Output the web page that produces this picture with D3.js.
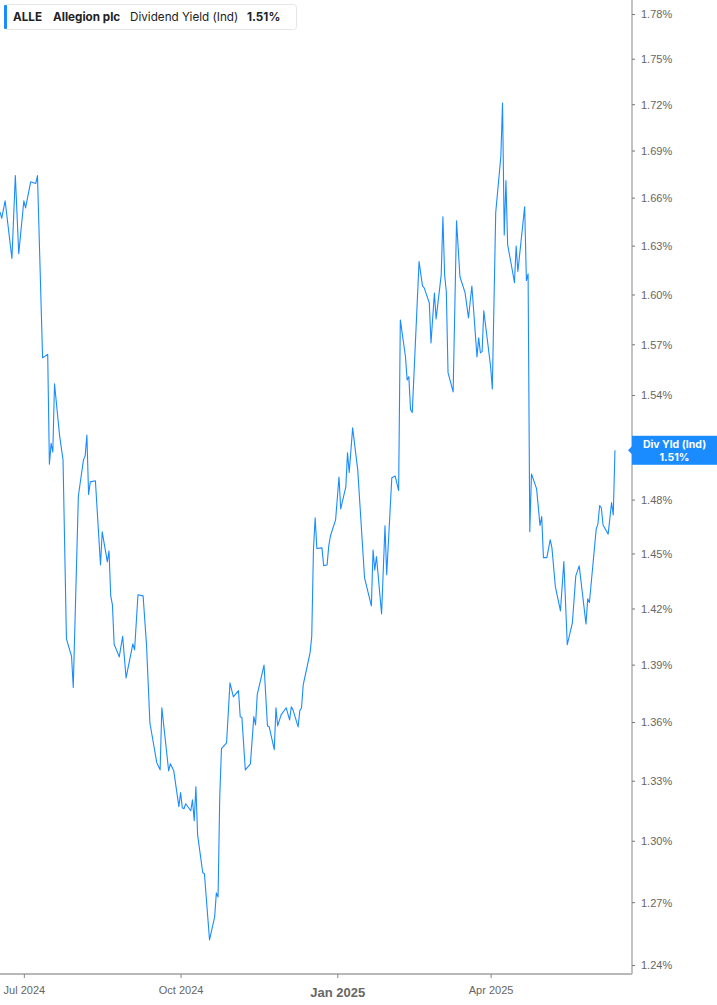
<!DOCTYPE html>
<html>
<head>
<meta charset="utf-8">
<script src="https://cdn.jsdelivr.net/npm/d3@7"></script>
<style>
  body { margin: 0; background: #fff; }
  svg { display: block; font-family: Inter, "Noto Sans", sans-serif; }
</style>
</head>
<body>
<svg id="chart" width="717" height="1005"></svg>
<script>
// dividend yield readings (dates and % values)
const dates = [
  "2024-06-17","2024-06-18","2024-06-20","2024-06-24","2024-06-26","2024-06-28","2024-07-01","2024-07-02",
  "2024-07-05","2024-07-08","2024-07-09","2024-07-12","2024-07-15","2024-07-16","2024-07-17","2024-07-18",
  "2024-07-19","2024-07-22","2024-07-24","2024-07-26","2024-07-29","2024-07-30","2024-08-02","2024-08-05",
  "2024-08-06","2024-08-07","2024-08-08","2024-08-09","2024-08-12","2024-08-15","2024-08-16","2024-08-19",
  "2024-08-20","2024-08-21","2024-08-22","2024-08-23","2024-08-26","2024-08-28","2024-08-30","2024-09-03",
  "2024-09-04","2024-09-06","2024-09-09","2024-09-11","2024-09-13","2024-09-17","2024-09-19","2024-09-20",
  "2024-09-24","2024-09-25","2024-09-27","2024-09-30","2024-10-01","2024-10-02","2024-10-03","2024-10-04",
  "2024-10-07","2024-10-08","2024-10-09","2024-10-10","2024-10-11","2024-10-14","2024-10-15","2024-10-18",
  "2024-10-21","2024-10-22","2024-10-23","2024-10-24","2024-10-25","2024-10-28","2024-10-30","2024-11-01",
  "2024-11-04","2024-11-05","2024-11-06","2024-11-08","2024-11-11","2024-11-13","2024-11-14","2024-11-15",
  "2024-11-19","2024-11-21","2024-11-22","2024-11-25","2024-11-26","2024-11-27","2024-11-29","2024-12-02",
  "2024-12-04","2024-12-05","2024-12-06","2024-12-09","2024-12-10","2024-12-11","2024-12-12","2024-12-16",
  "2024-12-17","2024-12-18","2024-12-19","2024-12-20","2024-12-23","2024-12-24","2024-12-26","2024-12-27",
  "2024-12-28","2024-12-31","2025-01-02","2025-01-03","2025-01-06","2025-01-07","2025-01-08","2025-01-10",
  "2025-01-13","2025-01-17","2025-01-21","2025-01-22","2025-01-23","2025-01-24","2025-01-27","2025-01-29",
  "2025-01-30","2025-02-02","2025-02-04","2025-02-06","2025-02-07","2025-02-10","2025-02-11","2025-02-12",
  "2025-02-13","2025-02-14","2025-02-18","2025-02-20","2025-02-21","2025-02-24","2025-02-25","2025-02-27",
  "2025-02-28","2025-03-03","2025-03-04","2025-03-05","2025-03-06","2025-03-07","2025-03-10","2025-03-12",
  "2025-03-14","2025-03-17","2025-03-19","2025-03-21","2025-03-24","2025-03-25","2025-03-26","2025-03-27",
  "2025-03-28","2025-04-01","2025-04-02","2025-04-04","2025-04-07","2025-04-08","2025-04-09","2025-04-10",
  "2025-04-11","2025-04-13","2025-04-15","2025-04-16","2025-04-17","2025-04-21","2025-04-22","2025-04-23",
  "2025-04-24","2025-04-25","2025-04-28","2025-04-30","2025-05-01","2025-05-02","2025-05-04","2025-05-06",
  "2025-05-07","2025-05-09","2025-05-12","2025-05-14","2025-05-16","2025-05-19","2025-05-21","2025-05-23",
  "2025-05-27","2025-05-28","2025-05-29","2025-06-02","2025-06-03","2025-06-04","2025-06-05","2025-06-06",
  "2025-06-09","2025-06-11","2025-06-12","2025-06-13"
];
const yields = [
  1.651,1.647,1.658,1.622,1.674,1.625,1.658,1.6535,
  1.670,1.669,1.674,1.562,1.564,1.500,1.512,1.507,
  1.5466,1.5163,1.5025,1.4037,1.3944,1.378,1.482,1.5025,
  1.5048,1.5168,1.4829,1.490,1.4906,1.4437,1.462,1.4454,
  1.4514,1.4268,1.4219,1.4008,1.3941,1.405,1.383,1.401,
  1.3978,1.4274,1.4268,1.4006,1.3595,1.3393,1.3355,1.3674,
  1.335,1.3386,1.335,1.317,1.324,1.3164,1.3159,1.3184,
  1.3149,1.3204,1.3099,1.327,1.3029,1.2844,1.2838,1.2519,
  1.2629,1.2745,1.2725,1.322,1.3463,1.3493,1.3804,1.3731,
  1.3763,1.3627,1.3623,1.3355,1.3386,1.3628,1.3585,1.3742,
  1.3898,1.358,1.3576,1.3458,1.3674,1.358,1.3637,1.3674,
  1.3611,1.3679,1.3663,1.3575,1.3658,1.3674,1.3794,1.3962,
  1.405,1.4519,1.4698,1.4527,1.4531,1.4433,1.4437,1.4542,
  1.4598,1.4686,1.4928,1.4748,1.4871,1.5065,1.4953,1.5209,
  1.4968,1.4366,1.4214,1.4519,1.4409,1.4483,1.4171,1.4653,
  1.4383,1.4923,1.4933,1.4851,1.5846,1.5627,1.5489,1.5508,
  1.5314,1.5298,1.6201,1.6052,1.604,1.5949,1.5708,1.6009,
  1.5852,1.612,1.6479,1.612,1.6017,1.5532,1.5418,1.6454,
  1.6108,1.6011,1.5858,1.6052,1.5625,1.5738,1.5649,1.5656,
  1.5901,1.5568,1.5436,1.6506,1.6861,1.7208,1.6366,1.6708,
  1.6304,1.6191,1.6072,1.6298,1.614,1.6543,1.6085,1.6126,
  1.4621,1.4945,1.486,1.4655,1.4705,1.4477,1.4477,1.4576,
  1.4531,1.4319,1.4187,1.4455,1.4006,1.4123,1.4377,1.4432,
  1.4116,1.4252,1.4232,1.4636,1.4664,1.4766,1.4753,1.4658,
  1.4607,1.4783,1.4714,1.508
];
// 1.51% sits under the last-value flag, so it is left out here
const yTicks = [1.24, 1.27, 1.30, 1.33, 1.36, 1.39, 1.42, 1.45, 1.48, 1.54, 1.57, 1.60, 1.63, 1.66, 1.69, 1.72, 1.75, 1.78];
const xTicks = ["2024-07-01", "2024-10-01", "2025-01-01", "2025-04-01"];
const xDomain = ["2024-06-17", "2025-06-23"];
const yDomain = [1.2358, 1.7895];
const lastLabel = { title: "Div Yld (Ind)", value: 1.51 };

const parse = d3.timeParse("%Y-%m-%d");
const data = dates.map((d, i) => ({ date: parse(d), v: yields[i] }));

const plotW = 632, plotH = 974;
const blue = "#1a8cff";

const svg = d3.select("#chart");

const x = d3.scaleTime()
  .domain(xDomain.map(parse))
  .range([0, plotW]);

const y = d3.scaleLog()
  .domain(yDomain)
  .range([plotH, 0]);

// line
svg.append("path")
  .datum(data)
  .attr("fill", "none")
  .attr("stroke", blue)
  .attr("stroke-width", 1.1)
  .attr("stroke-linejoin", "round")
  .attr("d", d3.line().x(d => x(d.date)).y(d => y(d.v)));

// right axis
const yAxis = svg.append("g")
  .attr("transform", `translate(${plotW},0)`)
  .call(d3.axisRight(y).tickValues(yTicks).tickSize(3).tickPadding(6)
    .tickFormat(d => d.toFixed(2) + "%"));
yAxis.select(".domain").attr("stroke", "#9a9a9a").attr("stroke-width", 1.2)
  .attr("d", `M0,0V${plotH}`);
yAxis.selectAll(".tick line").attr("stroke", "#777");
yAxis.selectAll(".tick text")
  .attr("fill", "#666")
  .style("font-size", "11px")
  .attr("dy", "0.35em");

// bottom axis
const xAxis = svg.append("g")
  .attr("transform", `translate(0,${plotH})`)
  .call(d3.axisBottom(x).tickValues(xTicks.map(parse)).tickSize(4).tickPadding(8)
    .tickFormat(d3.timeFormat("%b %Y")));
xAxis.select(".domain").attr("stroke", "#b8b8b8").attr("stroke-width", 2)
  .attr("d", `M0,0H${plotW}`);
xAxis.selectAll(".tick line").attr("stroke", "#888");
xAxis.selectAll(".tick text")
  .attr("fill", "#666")
  .style("font-size", "11px")
  .filter(d => d.getMonth() === 0)
  .style("font-size", "13px")
  .style("font-weight", "bold")
  .attr("dy", "0.85em");

// last value label
const ly = y(yields[yields.length - 1]);
const lab = svg.append("g").attr("transform", `translate(${plotW},${ly})`);
lab.append("rect")
  .attr("x", 0).attr("y", -14.5)
  .attr("width", 717 - plotW).attr("height", 29)
  .attr("fill", blue);
lab.append("path")
  .attr("d", "M0,-4L-4,0L0,4Z")
  .attr("fill", blue);
lab.append("text")
  .attr("x", (717 - plotW) / 2).attr("y", -2.5)
  .attr("text-anchor", "middle")
  .attr("fill", "#fff")
  .style("font-size", "10.5px").style("font-weight", "bold")
  .text(lastLabel.title);
lab.append("text")
  .attr("x", (717 - plotW) / 2).attr("y", 10.5)
  .attr("text-anchor", "middle")
  .attr("fill", "#fff")
  .style("font-size", "10.5px").style("font-weight", "bold")
  .text(lastLabel.value.toFixed(2) + "%");

// header legend
const head = svg.append("g");
head.append("rect")
  .attr("x", 4.5).attr("y", 4.5).attr("width", 292).attr("height", 25).attr("rx", 3)
  .attr("fill", "#fff").attr("stroke", "#e6e6e6");
head.append("rect")
  .attr("x", 4).attr("y", 5).attr("width", 3).attr("height", 24).attr("rx", 1)
  .attr("fill", blue);
const headParts = [
  { t: "ALLE", x: 13, w: "bold" },
  { t: "Allegion plc", x: 53, w: "bold" },
  { t: "Dividend Yield (Ind)", x: 130, w: "normal" },
  { t: "1.51%", x: 247, w: "bold" }
];
head.selectAll("text.h")
  .data(headParts)
  .join("text")
  .attr("class", "h")
  .attr("x", d => d.x).attr("y", 21)
  .attr("fill", "#222")
  .style("font-size", "11.7px")
  .style("font-weight", d => d.w)
  .text(d => d.t);
</script>
</body>
</html>
